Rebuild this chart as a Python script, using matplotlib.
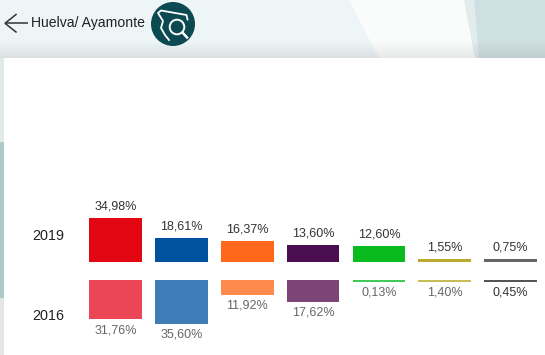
import numpy as np,matplotlib;matplotlib.use("Agg")
import matplotlib.pyplot as plt
from matplotlib.patches import Polygon,Circle,Rectangle

plt.rcParams['font.family']=['Liberation Sans','DejaVu Sans']
W,H=545,355
title="Huelva/ Ayamonte"
years=["2019","2016"]
vals_2019=[34.98,18.61,16.37,13.60,12.60,1.55,0.75]
vals_2016=[31.76,35.60,11.92,17.62,0.13,1.40,0.45]
cols_2019=["#e30613","#00529f","#ff671b","#4a0d4f","#09bb1e","#b9a92f","#66666a"]
cols_2016=["#ea4656","#407cb8","#ff8a4d","#7d4577","#3fcb55","#c9bb55","#555558"]
txt_2019=["#333333"]*7
txt_2016=["#666666"]*6+["#333333"]
min_h=1.7  # thin parties still show as a line

fig=plt.figure(figsize=(W/100,H/100),dpi=100,facecolor="white")

# background + header, in pixel coords
bg=fig.add_axes([0,0,1,1]);bg.set_xlim(0,W);bg.set_ylim(H,0);bg.axis("off")
bg.add_patch(Rectangle((0,0),W,58,color="#eef5f6",lw=0))
bg.add_patch(Polygon([(349,0),(464,0),(475,58),(379,58)],color="#fafcfb",lw=0))
bg.add_patch(Polygon([(464,0),(474,0),(479,58),(475,58)],color="#e2eced",lw=0))
bg.add_patch(Polygon([(474,0),(W,0),(W,58),(479,58)],color="#cfe0e2",lw=0))
shade=np.zeros((18,1,4));shade[:,0,3]=np.linspace(0,0.08,18)
bg.imshow(shade,extent=(0,W,58,40),aspect="auto",zorder=2)
bg.set_xlim(0,W);bg.set_ylim(H,0)
bg.add_patch(Rectangle((0,58),4,84,color="#dfeae9",lw=0))
bg.add_patch(Rectangle((0,142),4,156,color="#aecbcb",lw=0))
bg.add_patch(Rectangle((0,298),4,57,color="#e6e6e6",lw=0))

# back arrow
bg.plot([5,28],[23.3,23.3],color="#333333",lw=1.1,solid_capstyle="butt")
bg.plot([16,5,16],[14.5,23.3,32],color="#333333",lw=1.1,solid_joinstyle="miter")
bg.text(31,23.5,title,fontsize=10.1,color="#222222",va="center",ha="left")

# map icon
bg.add_patch(Circle((173,24),22,color="#0c4a52",lw=0,zorder=3))
outline=[(187.5,19.5),(186.5,15),(161,10.5),(158,13),(163,21),(161,28),(165,35),(169,40)]
bg.plot(*zip(*outline),color="white",lw=1.3,zorder=4)
bg.add_patch(Circle((177,27),7.3,fc="none",ec="white",lw=1.4,zorder=4))
bg.plot([182.5,187],[32.5,37.5],color="white",lw=1.8,zorder=4)

# bars: 2019 up from baseline, 2016 down from baseline
x=np.arange(len(vals_2019))
def make_ax(top,bottom):
    a=fig.add_axes([89/W,1-bottom/H,448.5/W,(bottom-top)/H])
    a.set_xlim(0,6.806);a.patch.set_alpha(0);a.axis("off")
    return a
ax1=make_ax(200,261.5);ax1.set_ylim(0,(261.5-200)/1.24)
ax2=make_ax(280,345);ax2.set_ylim((345-280)/1.24,0)
ax1.bar(x,np.maximum(vals_2019,min_h),width=0.8,align="edge",color=cols_2019)
ax2.bar(x,np.maximum(vals_2016,min_h),width=0.8,align="edge",color=cols_2016)
fmt=lambda v:f"{v:.2f}".replace(".",",")+"%"
for i,v in enumerate(vals_2019):
    ax1.annotate(fmt(v),(i+0.4,max(v,min_h)),xytext=(0,11.5*0.72),textcoords="offset points",ha="center",va="center",fontsize=9,color=txt_2019[i])
for i,v in enumerate(vals_2016):
    ax2.annotate(fmt(v),(i+0.4,max(v,min_h)),xytext=(0,-10.7*0.72),textcoords="offset points",ha="center",va="center",fontsize=9,color=txt_2016[i])

bg.text(32.5,235.5,years[0],fontsize=10.4,color="#222222",va="center",ha="left")
bg.text(32.5,316.5,years[1],fontsize=10.4,color="#222222",va="center",ha="left")

fig.savefig("out.png",dpi=100)
